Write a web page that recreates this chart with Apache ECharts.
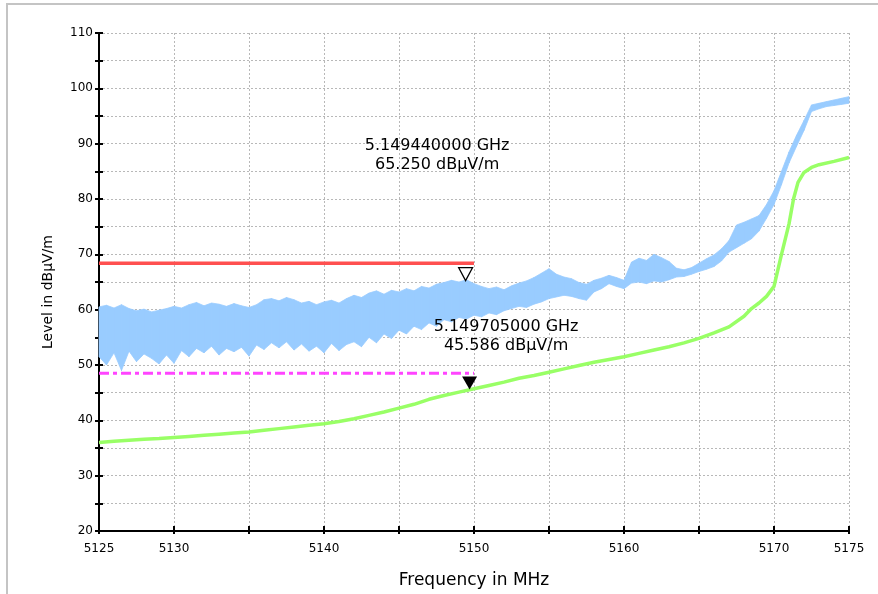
<!DOCTYPE html>
<html>
<head>
<meta charset="utf-8">
<script src="https://cdn.jsdelivr.net/npm/echarts@6/dist/echarts.min.js"></script>
<style>
  html, body { margin: 0; padding: 0; background: #fff; }
  #chart { width: 878px; height: 594px; }
</style>
</head>
<body>
<div id="chart"></div>
<script>
// spectrum sweep, 5125 - 5175 MHz
const blueFreq = [
  5125, 5125.5, 5126, 5126.5, 5127, 5127.5, 5128, 5128.5, 5129, 5129.5,
  5130, 5130.5, 5131, 5131.5, 5132, 5132.5, 5133, 5133.5, 5134, 5134.5,
  5135, 5135.5, 5136, 5136.5, 5137, 5137.5, 5138, 5138.5, 5139, 5139.5,
  5140, 5140.5, 5141, 5141.5, 5142, 5142.5, 5143, 5143.5, 5144, 5144.5,
  5145, 5145.5, 5146, 5146.5, 5147, 5147.5, 5148, 5148.5, 5149, 5149.5,
  5150, 5150.5, 5151, 5151.5, 5152, 5152.5, 5153, 5153.5, 5154, 5154.5,
  5155, 5155.5, 5156, 5156.5, 5157, 5157.5, 5158, 5158.5, 5159, 5159.5,
  5160, 5160.5, 5161, 5161.5, 5162, 5162.5, 5163, 5163.5, 5164, 5164.5,
  5165, 5165.5, 5166, 5166.5, 5167, 5167.5, 5168, 5168.5, 5169, 5169.5,
  5170, 5170.5, 5171, 5171.5, 5172, 5172.5, 5173, 5173.5, 5174, 5174.5,
  5175
];
// peak trace: top and bottom of the noisy band
const blueUpper = [
  60.5, 60.8, 60.3, 60.9, 60.2, 59.8, 60.1, 59.6, 59.9, 60.2,
  60.6, 60.3, 60.9, 61.3, 60.7, 61.2, 61.0, 60.6, 61.1, 60.7,
  60.4, 60.9, 61.8, 62.0, 61.6, 62.2, 61.8, 61.2, 61.5, 60.9,
  61.4, 61.7, 61.2, 62.0, 62.6, 62.2, 63.0, 63.4, 62.8, 63.5,
  63.2, 63.8, 63.4, 64.2, 63.9, 64.6, 64.9, 65.3, 65.0, 65.4,
  64.7, 64.2, 63.8, 64.1, 63.6, 64.3, 64.8, 65.2, 65.8, 66.6,
  67.4, 66.4, 65.9, 65.6, 64.9, 64.6, 65.3, 65.7, 66.2, 65.8,
  65.3, 68.6, 69.3, 68.9, 70.0, 69.4, 68.7, 67.5, 67.2, 67.6,
  68.4, 69.2, 69.9, 71.0, 72.5, 75.3, 75.8, 76.4, 77.0, 79.0,
  81.5, 85.0, 88.5, 91.5, 94.2, 97.0, 97.3, 97.6, 97.9, 98.2,
  98.5
];
const blueLower = [
  51.5, 50.0, 52.2, 49.0, 52.5, 50.6, 52.0, 51.2, 50.2, 51.8,
  50.3, 52.6, 51.5, 53.0, 52.2, 53.4, 51.8, 53.0, 52.4, 53.2,
  51.6, 53.6, 52.8, 54.0, 53.1, 54.2, 52.7, 53.8, 52.5, 53.4,
  52.2, 53.9, 52.6, 53.7, 54.2, 53.3, 55.0, 54.0, 55.6, 54.8,
  56.3, 55.6, 57.0, 56.4, 57.6, 57.0, 58.2, 57.8, 58.6, 58.3,
  59.0, 58.7, 59.4, 59.1, 59.8, 60.2, 60.6, 60.4, 61.0, 61.4,
  62.0, 62.3, 62.6, 62.4, 62.0, 61.7, 63.2, 63.8, 64.7, 64.2,
  63.8, 64.8, 65.0, 64.7, 65.2, 65.0, 65.4, 65.9, 66.0, 66.4,
  66.9, 67.3, 67.8, 68.8, 70.4, 71.2, 72.0, 72.8, 74.2, 76.5,
  79.0, 82.6, 86.5, 89.5, 92.4, 95.8, 96.3, 96.7, 96.9, 97.1,
  97.3
];

// average trace
const greenFreq = [
  5125, 5126, 5127, 5128, 5129, 5130, 5131, 5132, 5133, 5134,
  5135, 5136, 5137, 5138, 5139, 5140, 5141, 5142, 5143, 5144,
  5145, 5146, 5147, 5148, 5149, 5150, 5151, 5152, 5153, 5154,
  5155, 5156, 5157, 5158, 5159, 5160, 5161, 5162, 5163, 5164,
  5165, 5166, 5167, 5168, 5168.5, 5169, 5169.5, 5170, 5170.5, 5171,
  5171.3, 5171.6, 5172, 5172.5, 5173, 5174, 5175
];
const greenLevel = [
  36.0, 36.2, 36.4, 36.6, 36.7, 36.9, 37.1, 37.3, 37.5, 37.7,
  37.9, 38.2, 38.5, 38.8, 39.1, 39.4, 39.8, 40.3, 40.9, 41.5,
  42.2, 42.9, 43.8, 44.5, 45.1, 45.7, 46.3, 46.9, 47.6, 48.1,
  48.7, 49.3, 49.9, 50.5, 51.0, 51.5, 52.1, 52.7, 53.3, 54.0,
  54.8, 55.8, 56.9, 58.8, 60.2, 61.2, 62.4, 64.2, 70.0, 75.5,
  80.0, 83.0, 84.8, 85.7, 86.2, 86.8, 87.5
];

// limit lines
const peakLimitFreq = [5125, 5150];
const peakLimitLevel = [68.4, 68.4];
const avgLimitFreq = [5125, 5150];
const avgLimitLevel = [48.5, 48.5];

// markers (MHz, dBuV/m)
const markerFreq = [5149.44, 5149.705];
const markerLevel = [65.25, 45.586];

const xTickLabels = [5125, 5130, 5140, 5150, 5160, 5170, 5175];
const yTickLabels = [20, 30, 40, 50, 60, 70, 80, 90, 100, 110];

const pairs = (xs, ys) => xs.map((x, i) => [x, ys[i]]);

const chart = echarts.init(document.getElementById('chart'), null, { renderer: 'canvas' });

const font = 'DejaVu Sans';
const peakBlue = '#99ccff';

// one quad per step between the top and bottom of the peak band
function renderBand(params, api) {
  const i = params.dataIndexInside;
  if (i >= params.dataInsideLength - 1) return;
  const a1 = api.coord([api.value(0, i), api.value(1, i)]);
  const b1 = api.coord([api.value(0, i + 1), api.value(1, i + 1)]);
  const b2 = api.coord([api.value(0, i + 1), api.value(2, i + 1)]);
  const a2 = api.coord([api.value(0, i), api.value(2, i)]);
  return {
    type: 'polygon',
    shape: { points: [a1, b1, b2, a2] },
    style: { fill: peakBlue, stroke: peakBlue, lineWidth: 0.8 }
  };
}

const option = {
  animation: false,
  backgroundColor: '#ffffff',
  graphic: [{
    type: 'rect',
    shape: { x: 7, y: 4, width: 900, height: 700 },
    style: { fill: 'none', stroke: '#c4c4c4', lineWidth: 2 },
    silent: true
  }],
  grid: { left: 99, right: 29, top: 33, bottom: 63 },
  xAxis: [{
    type: 'value',
    min: 5125,
    max: 5175,
    interval: 5,
    position: 'bottom',
    name: 'Frequency in MHz',
    nameLocation: 'middle',
    nameGap: 41,
    nameTextStyle: { fontFamily: font, fontSize: 17, color: '#000' },
    axisLine: { lineStyle: { color: '#000', width: 2 } },
    axisTick: { length: 3, lineStyle: { color: '#000', width: 2 } },
    axisLabel: {
      margin: 12,
      interval: 0,
      showMinLabel: true,
      showMaxLabel: true,
      fontFamily: font,
      fontSize: 12,
      color: '#000',
      formatter: v => xTickLabels.indexOf(v) >= 0 ? String(v) : ''
    },
    splitLine: { show: true, lineStyle: { color: '#b8b8b8', width: 1, type: [2, 2] } }
  }, {
    type: 'value',
    min: 5125,
    max: 5175,
    interval: 5,
    position: 'bottom',
    axisLine: { show: false },
    axisTick: { inside: true, length: 5, lineStyle: { color: '#000', width: 2 } },
    axisLabel: { show: false },
    splitLine: { show: false }
  }],
  yAxis: [{
    type: 'value',
    min: 20,
    max: 110,
    interval: 5,
    name: 'Level in dBµV/m',
    nameLocation: 'middle',
    nameGap: 44,
    nameTextStyle: { fontFamily: font, fontSize: 14, color: '#000', padding: [0, 20, 0, 0] },
    axisLine: { show: true, lineStyle: { color: '#000', width: 2 } },
    axisTick: { show: true, length: 4, lineStyle: { color: '#000', width: 2 } },
    axisLabel: {
      margin: 6,
      fontFamily: font,
      fontSize: 12,
      color: '#000',
      formatter: v => yTickLabels.indexOf(v) >= 0 ? String(v) : ''
    },
    splitLine: { show: true, lineStyle: { color: '#b8b8b8', width: 1, type: [2, 2] } }
  }, {
    type: 'value',
    min: 20,
    max: 110,
    interval: 5,
    position: 'left',
    axisLine: { show: false },
    axisTick: { show: true, inside: true, length: 4, lineStyle: { color: '#000', width: 2 } },
    axisLabel: { show: false },
    splitLine: { show: false }
  }],
  series: [
    {
      name: 'peak',
      type: 'custom',
      silent: true,
      renderItem: renderBand,
      encode: { x: 0, y: [1, 2] },
      data: blueFreq.map((f, i) => [f, blueUpper[i], blueLower[i]])
    },
    {
      name: 'average',
      type: 'line',
      symbol: 'none',
      silent: true,
      lineStyle: { width: 3.5, color: '#99ff66' },
      data: pairs(greenFreq, greenLevel)
    },
    {
      name: 'peak limit',
      type: 'line',
      symbol: 'none',
      silent: true,
      lineStyle: { width: 3.5, color: '#ff5050' },
      data: pairs(peakLimitFreq, peakLimitLevel)
    },
    {
      name: 'avg limit',
      type: 'line',
      symbol: 'none',
      silent: true,
      lineStyle: { width: 3, color: '#ff44ff', type: [10, 4, 4, 4] },
      data: pairs(avgLimitFreq, avgLimitLevel)
    },
    {
      name: 'markers',
      type: 'scatter',
      symbol: 'triangle',
      symbolRotate: 180,
      silent: true,
      z: 5,
      itemStyle: { opacity: 1 },
      data: [
        {
          value: [markerFreq[0], markerLevel[0]],
          symbolSize: [14, 13],
          symbolOffset: [0, -6.5],
          itemStyle: { color: '#ffffff', borderColor: '#000', borderWidth: 1.2, opacity: 1 }
        },
        {
          value: [markerFreq[1], markerLevel[1]],
          symbolSize: [15, 13],
          symbolOffset: [0, -6.5],
          itemStyle: { color: '#000000', opacity: 1 }
        }
      ]
    },
    {
      name: 'marker text',
      type: 'scatter',
      symbolSize: 1,
      silent: true,
      z: 6,
      itemStyle: { color: 'rgba(255,255,255,0)', opacity: 1 },
      label: {
        show: true,
        fontFamily: font,
        fontSize: 16,
        lineHeight: 19,
        color: '#000',
        opacity: 1,
        align: 'center',
        verticalAlign: 'middle',
        formatter: p => (p.value[0] / 1000).toFixed(9) + ' GHz\n' + p.value[1].toFixed(3) + ' dBµV/m'
      },
      data: [
        { value: [markerFreq[0], markerLevel[0]], label: { position: [-28, -125] } },
        { value: [markerFreq[1], markerLevel[1]], label: { position: [37, -53] } }
      ]
    }
  ]
};

chart.setOption(option);
</script>
</body>
</html>
